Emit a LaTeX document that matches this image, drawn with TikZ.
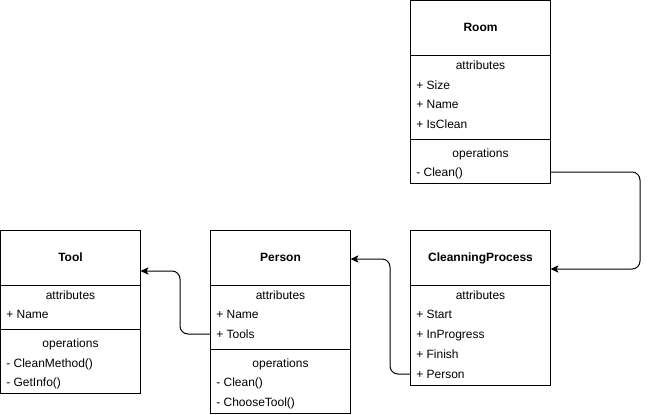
\documentclass[tikz,border=0pt]{standalone}
\usepackage{fontspec}
\setmainfont{Liberation Sans}
\usetikzlibrary{arrows.meta}
\begin{document}
\begin{tikzpicture}[x=0.75pt,y=-0.75pt,
  cls/.style={draw,line width=0.75pt,inner sep=0pt,outer sep=0pt,minimum width=105pt},
  sep/.style={line width=0.75pt},
  txt/.style={font=\fontsize{9pt}{11pt}\selectfont,inner sep=0pt,text height=7.2pt,text depth=1pt},
  hd/.style={txt,font=\fontsize{9pt}{11pt}\selectfont\bfseries},
  sec/.style={txt},
  itm/.style={txt,anchor=west},
  conn/.style={line width=0.75pt,rounded corners=6pt,-{Stealth[length=6pt,width=5.5pt,inset=1.5pt]}}
]
\useasboundingbox (0,0) rectangle (649,414);

% Room
\node[cls,minimum height=137.25pt] (room) at (480.5,92) {};
\draw[sep] (410.5,55.5) -- (550.5,55.5);
\draw[sep] (410.5,139.5) -- (550.5,139.5);
\node[hd] (roomt) at (480.5,27.5) {Room};
\node[sec] (roomattr) at (480.5,65) {attributes};
\node[itm] (rsize) at (416,85) {+ Size};
\node[itm] (rname) at (416,104) {+ Name};
\node[itm] (risclean) at (416,124) {+ IsClean};
\node[sec] (roomops) at (480.5,153) {operations};
\node[itm] (rclean) at (416,172) {- Clean()};

% Tool
\node[cls,minimum height=122.25pt] (tool) at (70.5,312) {};
\draw[sep] (0.5,285.5) -- (140.5,285.5);
\draw[sep] (0.5,329.5) -- (140.5,329.5);
\node[hd] (toolt) at (70.5,257.5) {Tool};
\node[sec] (toolattr) at (70.5,295) {attributes};
\node[itm] (tname) at (6,314) {+ Name};
\node[sec] (toolops) at (70.5,343) {operations};
\node[itm] (tcm) at (6,363) {- CleanMethod()};
\node[itm] (tgi) at (6,382) {- GetInfo()};

% Person
\node[cls,minimum height=136.875pt] (person) at (280.5,321.75) {};
\draw[sep] (210.5,285.5) -- (350.5,285.5);
\draw[sep] (210.5,349.5) -- (350.5,349.5);
\node[hd] (persont) at (280.5,257.5) {Person};
\node[sec] (pattr) at (280.5,295) {attributes};
\node[itm] (pname) at (216,314) {+ Name};
\node[itm] (ptools) at (216,334) {+ Tools};
\node[sec] (pops) at (280.5,363) {operations};
\node[itm] (pclean) at (216,382) {- Clean()};
\node[itm] (pchoose) at (216,402) {- ChooseTool()};

% CleanningProcess
\node[cls,minimum height=116.25pt] (cp) at (480.5,308) {};
\draw[sep] (410.5,285.5) -- (550.5,285.5);
\node[hd] (cpt) at (480.5,257.5) {CleanningProcess};
\node[sec] (cpattr) at (480.5,295) {attributes};
\node[itm] (cstart) at (416,314) {+ Start};
\node[itm] (cinprog) at (416,334) {+ InProgress};
\node[itm] (cfinish) at (416,354) {+ Finish};
\node[itm] (cperson) at (416,374) {+ Person};

% connector bend coordinates
\coordinate (k1) at (640,0);
\coordinate (k2) at (390,0);
\coordinate (k3) at (180,0);
\coordinate (cpin) at (0,269);
\coordinate (pin) at (0,259);
\coordinate (tin) at (0,271);

\draw[conn] (rclean -| room.east) -- (rclean -| k1) -- (k1 |- cpin) -- (cp.east |- cpin);
\draw[conn] (cperson -| cp.west) -- (cperson -| k2) -- (k2 |- pin) -- (person.east |- pin);
\draw[conn] (ptools -| person.west) -- (ptools -| k3) -- (k3 |- tin) -- (tool.east |- tin);
\end{tikzpicture}
\end{document}
